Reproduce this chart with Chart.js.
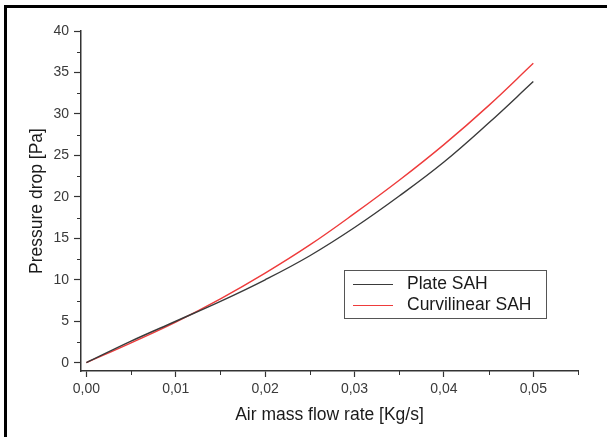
<!DOCTYPE html>
<html>
<head>
<meta charset="utf-8">
<script src="https://cdn.jsdelivr.net/npm/chart.js@4"></script>
<style>
  html, body { margin: 0; padding: 0; background: #fff; }
  #wrap { position: relative; width: 607px; height: 437px; }
  #frame { position: absolute; left: 4px; top: 5px; right: 0; bottom: 0;
           border-top: 3px solid #000; border-left: 3px solid #000; pointer-events: none; }
  canvas { position: absolute; left: 0; top: 0; }
</style>
</head>
<body>
<div id="wrap">
  <canvas id="c" width="607" height="437"></canvas>
  <div id="frame"></div>
</div>
<script>
// pressure drop vs air mass flow rate
const flowRate    = [0, 0.005, 0.01, 0.015, 0.02, 0.025, 0.03, 0.035, 0.04, 0.045, 0.05];
const plate       = [0, 2.6, 5.0, 7.4, 10.0, 12.9, 16.3, 20.1, 24.2, 28.9, 33.9];
const curvilinear = [0, 2.4, 4.9, 7.7, 10.8, 14.2, 18.0, 22.0, 26.3, 31.0, 36.1];
const xTicks = [0, 0.01, 0.02, 0.03, 0.04, 0.05];
const yTicks = [0, 5, 10, 15, 20, 25, 30, 35, 40];
const xMinor = [0.005, 0.015, 0.025, 0.035, 0.045, 0.055];
const yMinor = [2.5, 7.5, 12.5, 17.5, 22.5, 27.5, 32.5, 37.5];

const AXIS = '#333';
const FONT = "'Liberation Sans', Arial, sans-serif";

const minorTicks = {
  id: 'minorTicks',
  afterDraw(chart) {
    const { ctx, scales: { x, y } } = chart;
    ctx.save();
    ctx.strokeStyle = AXIS;
    ctx.lineWidth = 1;
    ctx.beginPath();
    xMinor.forEach(v => {
      const px = Math.round(x.getPixelForValue(v)) + 0.5;
      ctx.moveTo(px, x.top); ctx.lineTo(px, x.top + 4);
    });
    yMinor.forEach(v => {
      const py = Math.round(y.getPixelForValue(v)) + 0.5;
      ctx.moveTo(y.right, py); ctx.lineTo(y.right - 4, py);
    });
    ctx.stroke();
    ctx.restore();
  }
};

const boxLegend = {
  id: 'boxLegend',
  afterDraw(chart) {
    const { ctx } = chart;
    const x0 = 344, y0 = 270, w = 202, h = 48;
    ctx.save();
    ctx.fillStyle = '#fff';
    ctx.fillRect(x0, y0, w, h);
    ctx.strokeStyle = '#555';
    ctx.lineWidth = 1;
    ctx.strokeRect(x0 + 0.5, y0 + 0.5, w, h);
    ctx.font = '17.5px ' + FONT;
    ctx.textBaseline = 'middle';
    chart.data.datasets.forEach((ds, i) => {
      const yy = y0 + 13.5 + i * 21;
      ctx.strokeStyle = ds.borderColor;
      ctx.lineWidth = 1;
      ctx.beginPath();
      ctx.moveTo(353, Math.round(yy) + 0.5); ctx.lineTo(393, Math.round(yy) + 0.5);
      ctx.stroke();
      ctx.fillStyle = '#1a1a1a';
      ctx.fillText(ds.label, 407, yy + 1);
    });
    ctx.restore();
  }
};

const fmt = v => v.toFixed(2).replace('.', ',');

new Chart(document.getElementById('c'), {
  type: 'line',
  data: {
    datasets: [
      { label: 'Plate SAH', data: flowRate.map((f, i) => ({ x: f, y: plate[i] })),
        borderColor: '#3a3a3a', borderWidth: 1.4, pointRadius: 0, tension: 0.4 },
      { label: 'Curvilinear SAH', data: flowRate.map((f, i) => ({ x: f, y: curvilinear[i] })),
        borderColor: '#ee3b3b', borderWidth: 1.4, pointRadius: 0, tension: 0.4 }
    ]
  },
  options: {
    responsive: false, animation: false,
    layout: { padding: { top: 31, right: 29, left: 20, bottom: 8 } },
    plugins: { legend: { display: false }, tooltip: { enabled: false } },
    scales: {
      x: {
        type: 'linear', min: -0.0006, max: 0.055,
        afterBuildTicks: s => { s.ticks = xTicks.map(v => ({ value: v })); },
        afterFit: s => { s.height = 437 - 8 - 371; },
        border: { display: true, color: AXIS, width: 1.5 },
        grid: { drawOnChartArea: false, drawTicks: true, tickLength: 6, tickColor: AXIS, tickWidth: 1.2 },
        ticks: { color: '#3a3a3a', font: { family: FONT, size: 14 }, padding: 4, callback: v => fmt(v), maxRotation: 0 },
        title: { display: true, text: 'Air mass flow rate [Kg/s]', color: '#1a1a1a',
                 font: { family: FONT, size: 17.5 }, padding: { top: 2, bottom: 3.5 } }
      },
      y: {
        min: -1, max: 40,
        afterBuildTicks: s => { s.ticks = yTicks.map(v => ({ value: v })); },
        afterFit: s => { s.width = 81 - 20; },
        border: { display: true, color: AXIS, width: 1.5 },
        grid: { drawOnChartArea: false, drawTicks: true, tickLength: 7, tickColor: AXIS, tickWidth: 1.2 },
        ticks: { color: '#3a3a3a', font: { family: FONT, size: 14 }, padding: 5 },
        title: { display: true, text: 'Pressure drop [Pa]', color: '#1a1a1a',
                 font: { family: FONT, size: 17.5 }, padding: { top: 6.5, bottom: 4 } }
      }
    }
  },
  plugins: [minorTicks, boxLegend]
});
</script>
</body>
</html>
